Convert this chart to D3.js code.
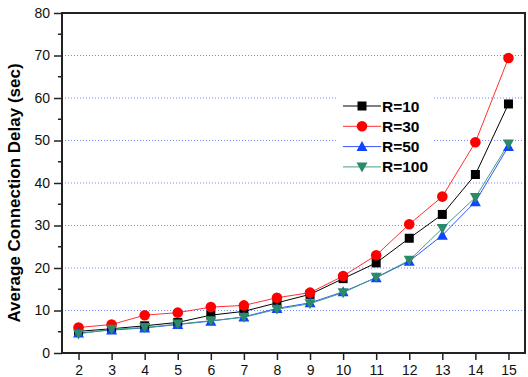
<!DOCTYPE html>
<html>
<head>
<meta charset="utf-8">
<script src="https://cdn.jsdelivr.net/npm/d3@7"></script>
<style>
body { margin: 0; background: #fff; }
svg { font-family: Arial, "Liberation Sans", sans-serif; }
</style>
</head>
<body>
<svg id="chart" width="528" height="377"></svg>
<script>
var width = 528;
var height = 377;
var margin = {top: 13, right: 3, bottom: 24, left: 62};
var w = width - margin.left - margin.right;
var h = height - margin.top - margin.bottom;

// number of nodes on the x axis
var xValues = [2, 3, 4, 5, 6, 7, 8, 9, 10, 11, 12, 13, 14, 15];

// delay values, one array per radius
var r10  = [5.1, 5.7, 6.4, 7.2, 8.9, 9.8, 11.8, 13.8, 17.5, 21.2, 27.0, 32.6, 42.0, 58.6];
var r30  = [6.0, 6.7, 8.9, 9.5, 10.8, 11.2, 13.0, 14.2, 18.1, 23.0, 30.3, 36.8, 49.6, 69.4];
var r50  = [4.7, 5.4, 5.9, 6.7, 7.5, 8.5, 10.5, 11.8, 14.4, 17.7, 21.6, 27.7, 35.6, 48.6];
var r100 = [4.5, 5.6, 6.0, 6.8, 7.6, 8.4, 10.3, 11.6, 14.2, 17.8, 21.8, 29.3, 36.6, 49.2];

var seriesNames = ["R=10", "R=30", "R=50", "R=100"];
var yTicks = [0, 10, 20, 30, 40, 50, 60, 70, 80];
var gridTicks = [10, 20, 30, 40, 50, 60, 70];

var series = [
    {name: seriesNames[0], values: r10,  line: "#000000", fill: "#000000", symbol: "square"},
    {name: seriesNames[1], values: r30,  line: "#ff3030", fill: "#ff0000", symbol: "circle"},
    {name: seriesNames[2], values: r50,  line: "#3355ff", fill: "#1144ff", symbol: "up"},
    {name: seriesNames[3], values: r100, line: "#40a080", fill: "#2a8a6a", symbol: "down"}
];

var svg = d3.select("#chart");
var g = svg.append("g")
    .attr("transform", "translate(" + margin.left + "," + margin.top + ")");

var x = d3.scaleLinear().domain([1.5, 15.5]).range([0, w]);
var y = d3.scaleLinear().domain([0, 80]).range([h, 0]);

// dotted grid lines
g.selectAll(".grid")
    .data(gridTicks)
    .enter().append("line")
    .attr("x1", 0).attr("x2", w)
    .attr("y1", function(d) { return y(d); })
    .attr("y2", function(d) { return y(d); })
    .style("stroke", "#7088ff")
    .style("stroke-width", 1)
    .style("stroke-dasharray", "1,2");

// minor y ticks every 5
g.selectAll(".minor")
    .data(d3.range(5, 80, 10))
    .enter().append("line")
    .attr("x1", -4).attr("x2", 0)
    .attr("y1", function(d) { return y(d); })
    .attr("y2", function(d) { return y(d); })
    .style("stroke", "#222").style("stroke-width", 1.5);

var yAxis = d3.axisLeft(y).tickValues(yTicks).tickSize(8).tickSizeOuter(0).tickPadding(4);
var xAxis = d3.axisBottom(x).tickValues(xValues).tickSize(7).tickSizeOuter(0).tickPadding(5);

var ya = g.append("g").call(yAxis);
var xa = g.append("g").attr("transform", "translate(0," + h + ")").call(xAxis);

[ya, xa].forEach(function(a) {
    a.select(".domain").remove();
    a.selectAll("line").style("stroke", "#222").style("stroke-width", 1.5);
    a.selectAll("text").style("font-size", "14px").style("fill", "#111");
});

// legend background (hides grid)
var legend = g.append("g").attr("transform", "translate(" + (337 - margin.left) + "," + (96 - margin.top) + ")");
legend.append("rect")
    .attr("width", 95).attr("height", 82)
    .style("fill", "#fff");

var line = d3.line()
    .x(function(d, i) { return x(xValues[i]); })
    .y(function(d) { return y(d); });

function drawMarker(sel, s, cx, cy) {
    if (s.symbol == "square") {
        sel.append("rect").attr("x", cx - 4.5).attr("y", cy - 4.5).attr("width", 9).attr("height", 9)
            .style("fill", s.fill);
    } else if (s.symbol == "circle") {
        sel.append("circle").attr("cx", cx).attr("cy", cy).attr("r", 5.3).style("fill", s.fill);
    } else if (s.symbol == "up") {
        sel.append("path").attr("d", "M" + cx + "," + (cy - 5.5) + "L" + (cx + 5.5) + "," + (cy + 4.5) + "L" + (cx - 5.5) + "," + (cy + 4.5) + "Z")
            .style("fill", s.fill);
    } else {
        sel.append("path").attr("d", "M" + cx + "," + (cy + 5.5) + "L" + (cx + 5.5) + "," + (cy - 4.5) + "L" + (cx - 5.5) + "," + (cy - 4.5) + "Z")
            .style("fill", s.fill);
    }
}

series.forEach(function(s) {
    g.append("path")
        .datum(s.values)
        .attr("d", line)
        .style("fill", "none")
        .style("stroke", s.line)
        .style("stroke-width", 1);
});

series.forEach(function(s) {
    var mg = g.append("g");
    s.values.forEach(function(v, i) {
        drawMarker(mg, s, x(xValues[i]), y(v));
    });
});

// legend entries
series.forEach(function(s, i) {
    var ly = 10 + i * 20.3;
    legend.append("line")
        .attr("x1", 6).attr("x2", 44).attr("y1", ly).attr("y2", ly)
        .style("stroke", s.line).style("stroke-width", 1);
    drawMarker(legend, s, 25, ly);
    legend.append("text")
        .attr("x", 45).attr("y", ly + 5.5)
        .style("font-size", "15.5px").style("font-weight", "bold")
        .text(s.name);
});

// frame
g.append("rect")
    .attr("width", w).attr("height", h)
    .style("fill", "none")
    .style("stroke", "#222")
    .style("stroke-width", 2);

// y axis title
svg.append("text")
    .attr("transform", "translate(20,193) rotate(-90)")
    .style("text-anchor", "middle")
    .style("font-size", "17px")
    .style("font-weight", "bold")
    .text("Average Connection Delay (sec)");
</script>
</body>
</html>
